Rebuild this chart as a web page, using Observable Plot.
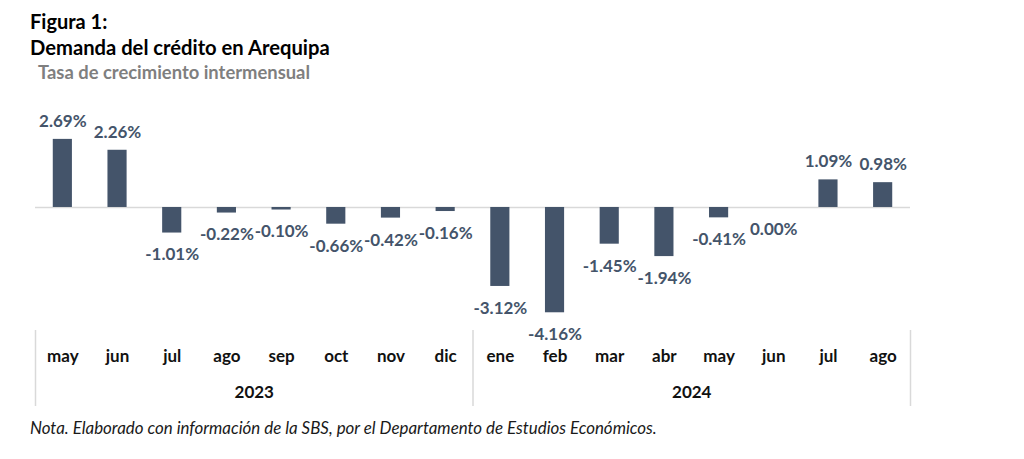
<!DOCTYPE html>
<html>
<head>
<meta charset="utf-8">
<script src="https://cdn.jsdelivr.net/npm/d3@7"></script>
<script src="https://cdn.jsdelivr.net/npm/@observablehq/plot@0.6"></script>
<style>
  html, body { margin: 0; padding: 0; background: #fff; }
  body { width: 1024px; height: 459px; position: relative; overflow: hidden; font-family: Lato, "Open Sans", sans-serif; }
  .t { position: absolute; white-space: nowrap; line-height: 1; }
  #fig { left: 30px; top: 11px; font-size: 20px; font-weight: bold; color: #000; }
  #title { left: 30px; top: 37px; font-size: 20.2px; font-weight: bold; color: #000; }
  #sub { left: 38px; top: 63px; font-size: 18.4px; font-weight: bold; color: #7f7f7f; }
  #chart { position: absolute; left: 0; top: 88px; }
  #cap { left: 30px; top: 420px; font-size: 16.9px; font-style: italic; color: #1a1a1a; }
</style>
</head>
<body>
<div class="t" id="fig">Figura 1:</div>
<div class="t" id="title">Demanda del crédito en Arequipa</div>
<div class="t" id="sub">Tasa de crecimiento intermensual</div>
<div id="chart"></div>
<div class="t" id="cap">Nota. Elaborado con información de la SBS, por el Departamento de Estudios Económicos.</div>
<script>
const months = ["may","jun","jul","ago","sep","oct","nov","dic","ene","feb","mar","abr","may","jun","jul","ago"];
const years  = ["2023","2023","2023","2023","2023","2023","2023","2023","2024","2024","2024","2024","2024","2024","2024","2024"];
const values = [2.69, 2.26, -1.01, -0.22, -0.10, -0.66, -0.42, -0.16, -3.12, -4.16, -1.45, -1.94, -0.41, 0.00, 1.09, 0.98];
const yearLabels = ["2023", "2024"];

const data = months.map((m, i) => ({key: years[i] + "-" + m, month: m, year: years[i], value: values[i]}));
const keys = data.map(d => d.key);
const monthOf = new Map(data.map(d => [d.key, d.month]));

const W = 1024, H = 324, mL = 35, mR = 114, mT = 20, mB = 82;
const step = (W - mL - mR) / keys.length;

// year label anchors: middle of each year's group (between its 4th and 5th month)
const yearData = yearLabels.map(y => {
  const ks = data.filter(d => d.year === y).map(d => d.key);
  return {year: y, key: ks[ks.length / 2 - 1]};
});
// group boundaries
const leftEdges = yearLabels.map(y => data.find(d => d.year === y).key);
const rightEdge = [keys[keys.length - 1]];

const fmt = v => v.toFixed(2) + "%";
const barColor = "#44546a";
const gridColor = "#d9d9d9";

const plot = Plot.plot({
  width: W, height: H,
  marginLeft: mL, marginRight: mR, marginTop: mT, marginBottom: mB,
  style: {fontFamily: "Lato, 'Open Sans', sans-serif", fontSize: "17px", color: "#111", background: "transparent"},
  x: {domain: keys, paddingInner: 0.65, paddingOuter: 0.325, round: false, axis: null},
  y: {domain: [-4.86, 3.91], axis: null},
  marks: [
    Plot.ruleY([0], {stroke: gridColor, strokeWidth: 1.5}),
    Plot.barY(data, {x: "key", y: "value", fill: barColor}),
    Plot.text(data.filter(d => d.value > 0), {x: "key", y: "value", text: d => fmt(d.value), dy: -18, fill: barColor, fontWeight: "bold", fontSize: 17}),
    Plot.text(data.filter(d => d.value <= 0), {x: "key", y: "value", text: d => fmt(d.value), dy: 22, fill: barColor, fontWeight: "bold", fontSize: 17}),
    Plot.axisX({tickSize: 0, tickPadding: 19, label: null, tickFormat: k => monthOf.get(k), fontWeight: "bold", fontSize: 17, fill: "#111"}),
    Plot.text(yearData, {x: "key", text: "year", frameAnchor: "bottom", dx: step / 2, dy: 67, fontWeight: "bold", fontSize: 17, fill: "#111"}),
    Plot.ruleX(leftEdges, {dx: -step / 2, insetTop: H - mT - mB, insetBottom: -76, stroke: gridColor, strokeWidth: 1.5}),
    Plot.ruleX(rightEdge, {dx: step / 2, insetTop: H - mT - mB, insetBottom: -76, stroke: gridColor, strokeWidth: 1.5})
  ]
});
document.getElementById("chart").appendChild(plot);
</script>
</body>
</html>
